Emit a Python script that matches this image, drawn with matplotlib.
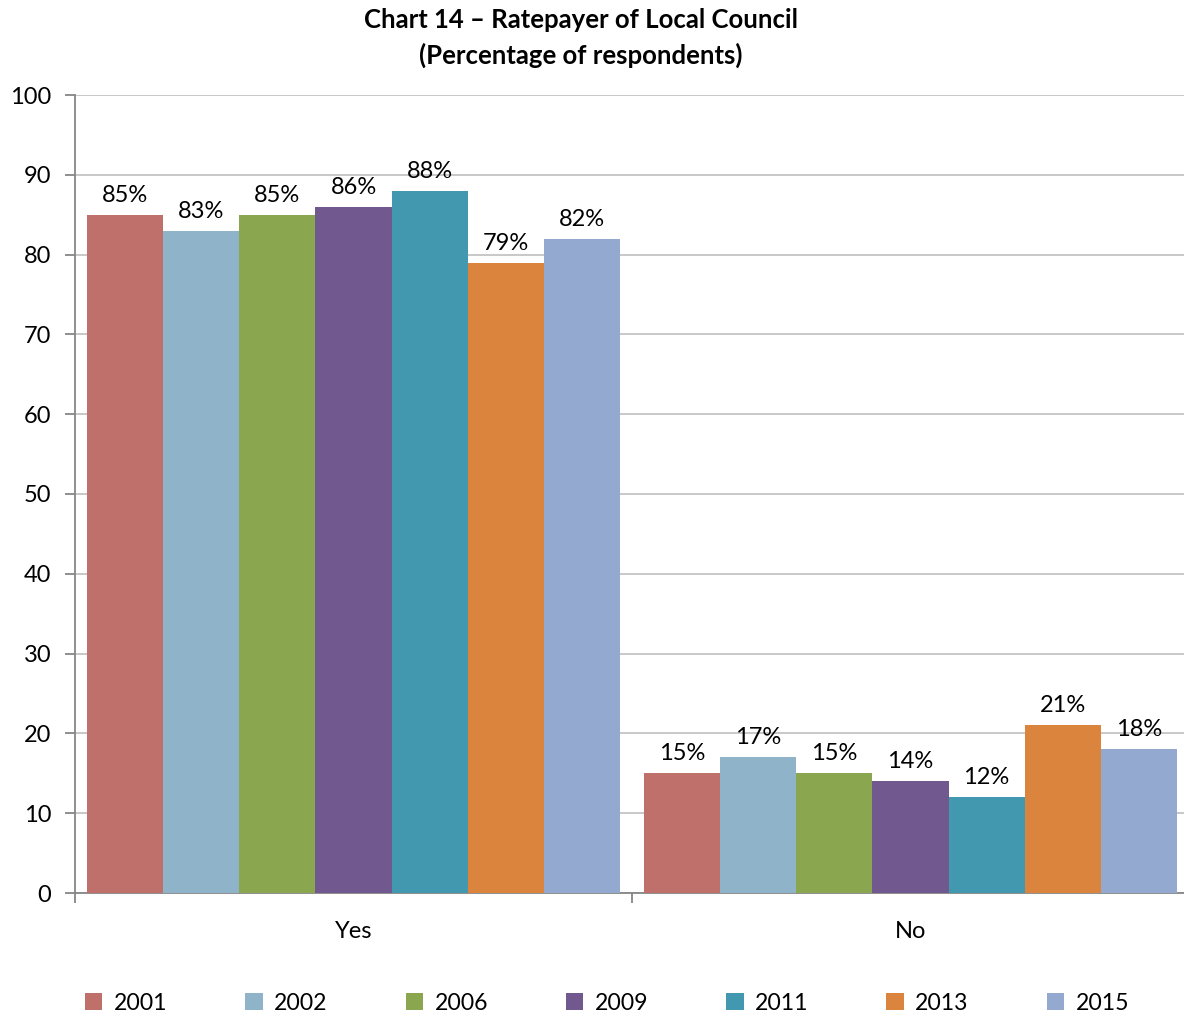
import matplotlib
matplotlib.use("Agg")
import matplotlib.pyplot as plt
import numpy as np

plt.rcParams['font.family'] = ['Lato', 'DejaVu Sans']

categories = ["Yes", "No"]
years = ["2001", "2002", "2006", "2009", "2011", "2013", "2015"]
values = {
    "2001": [85, 15],
    "2002": [83, 17],
    "2006": [85, 15],
    "2009": [86, 14],
    "2011": [88, 12],
    "2013": [79, 21],
    "2015": [82, 18],
}
colors = ["#C0706B", "#8FB4CA", "#8AA64F", "#71588F", "#4198AF", "#DB843D", "#93A9CF"]

W, H = 1184, 1015
fig = plt.figure(figsize=(W / 100, H / 100), dpi=100)
ax = fig.add_axes([75 / W, 1 - 893 / H, 1114 / W, 798 / H])

x = np.arange(len(categories))
bw = 0.1366
n = len(years)
handles = []
for i, (yr, col) in enumerate(zip(years, colors)):
    pos = x + (i - (n - 1) / 2) * bw
    bars = ax.bar(pos, values[yr], width=bw, color=col, zorder=3, label=yr)
    handles.append(bars)
    for xi, v in zip(pos, values[yr]):
        ax.annotate(f"{v}%", (xi, v), xytext=(0, 6.5), textcoords="offset points",
                    ha="center", va="bottom", fontsize=17, color="black", zorder=4)

ax.set_xlim(-0.5, 1.5)
ax.set_ylim(0, 100)
ax.set_yticks(range(0, 101, 10))
ax.yaxis.grid(True, color="#BFBFBF", linewidth=1.2, zorder=0)
ax.set_axisbelow(True)

ax.set_xticks([-0.5, 0.5, 1.5])
ax.set_xticklabels([])
ax.set_xticks(x, minor=True)
ax.set_xticklabels(categories, minor=True, fontsize=17)
ax.tick_params(axis="x", which="minor", length=0, pad=20)
ax.tick_params(axis="x", which="major", length=7, width=1.3, color="#868686", direction="out")
ax.tick_params(axis="y", length=7, width=1.3, color="#868686", direction="out", labelsize=17, pad=10)

for s in ["top", "right"]:
    ax.spines[s].set_visible(False)
for s in ["left", "bottom"]:
    ax.spines[s].set_color("#868686")
    ax.spines[s].set_linewidth(1.3)

fig.text(581 / W, 1 - 20 / H, "Chart 14 \u2013 Ratepayer of Local Council", ha="center", va="center",
         fontsize=18.5, fontweight="bold")
fig.text(581 / W, 1 - 55 / H, "(Percentage of respondents)", ha="center", va="center",
         fontsize=18.5, fontweight="bold")

fig.legend(handles=handles, labels=years, loc="center", bbox_to_anchor=(607 / W, 1 - 1003 / H),
           ncol=7, frameon=False, fontsize=16.6, handlelength=0.75, handleheight=0.75,
           handletextpad=0.5, columnspacing=3.38, borderaxespad=0, borderpad=0)

fig.savefig("out.png", dpi=100)
